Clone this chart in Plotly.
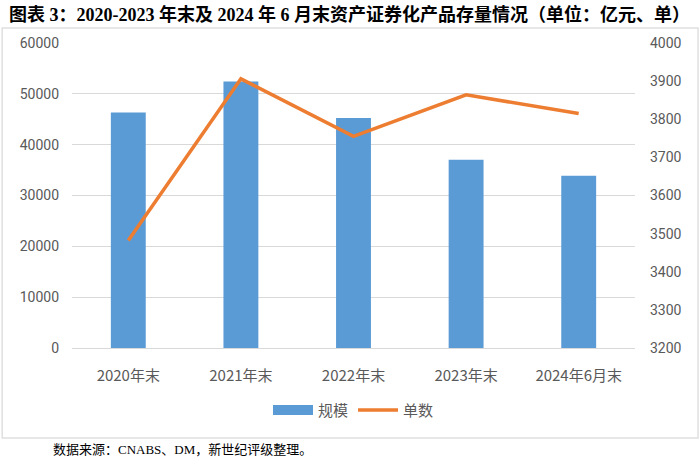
import plotly.graph_objects as go

categories = ["2020年末", "2021年末", "2022年末", "2023年末", "2024年6月末"]
scale_values = [46350, 52450, 45250, 37050, 33900]
count_values = [3482, 3906, 3755, 3864, 3815]
left_ticks = [0, 10000, 20000, 30000, 40000, 50000, 60000]
right_ticks = [3200, 3300, 3400, 3500, 3600, 3700, 3800, 3900, 4000]

fig = go.Figure()
fig.add_trace(go.Bar(x=categories, y=scale_values, name="规模",
                     marker=dict(color="#5B9BD5", line=dict(width=0)), yaxis="y",
                     showlegend=False))
# legend entry for the bars drawn as a wide swatch
fig.add_trace(go.Scatter(x=[categories[0]], y=[None], name="规模", mode="lines",
                         line=dict(color="#5B9BD5", width=10), yaxis="y",
                         hoverinfo="skip"))
fig.add_trace(go.Scatter(x=categories, y=count_values, name="单数", mode="lines",
                         line=dict(color="#ED7D31", width=3.5), yaxis="y2"))

tick_font = dict(family="Roboto, Noto Sans CJK SC, sans-serif", size=14, color="#595959")

fig.update_layout(
    width=700, height=457,
    margin=dict(l=72, r=65, t=43, b=109),
    paper_bgcolor="white", plot_bgcolor="white",
    bargap=0.69,
    showlegend=True,
    legend=dict(orientation="h", x=0.5, xanchor="center", y=-0.15, yanchor="top",
                font=dict(family="Noto Sans CJK SC, sans-serif", size=15, color="#595959"),
                itemwidth=40, traceorder="normal"),
    xaxis=dict(tickfont=dict(family="Noto Sans CJK SC, sans-serif", size=15, color="#595959"),
               showline=True, linecolor="#D9D9D9", linewidth=1, ticks="", showgrid=False,
               ticklabelstandoff=14, automargin=False),
    yaxis=dict(range=[0, 60000], tickvals=left_ticks, tickformat="d", tickfont=tick_font,
               showgrid=True, gridcolor="#D9D9D9", gridwidth=1, zeroline=False,
               ticklabelstandoff=12, automargin=False),
    yaxis2=dict(range=[3200, 4000], tickvals=right_ticks, tickformat="d", tickfont=tick_font,
                overlaying="y", side="right", showgrid=False, zeroline=False,
                ticklabelstandoff=14, automargin=False),
    annotations=[
        dict(text="<b>图表 3：2020-2023 年末及 2024 年 6 月末资产证券化产品存量情况（单位：亿元、单）</b>",
             xref="paper", yref="paper", x=0.5, xanchor="center",
             y=1.0, yanchor="middle", yshift=29, showarrow=False,
             font=dict(family="Liberation Serif, Noto Sans CJK SC, serif", size=18, color="#000000"),
             xshift=-4),
        dict(text="数据来源：CNABS、DM，新世纪评级整理。", xref="paper", yref="paper",
             x=-0.037, xanchor="left", y=-0.332, yanchor="middle", showarrow=False,
             font=dict(family="Liberation Serif, Noto Sans CJK SC, serif", size=13, color="#000000")),
    ],
    shapes=[dict(type="rect", xref="paper", yref="paper", x0=-0.124, x1=1.112,
                 y0=-0.295, y1=1.049, line=dict(color="#E0E0E0", width=1.5), layer="below")],
)

fig.write_html("out.html", config={"displayModeBar": False},
               post_script="document.body.style.margin='0px';")
